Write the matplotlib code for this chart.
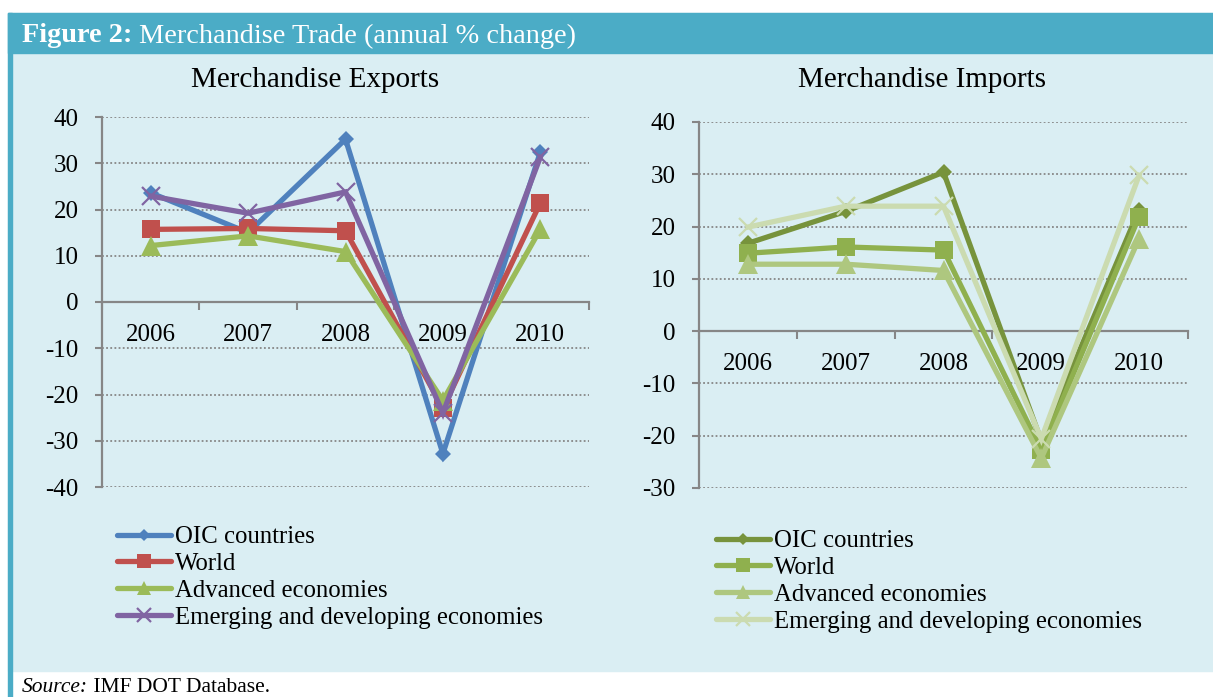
import matplotlib.pyplot as plt
from matplotlib.patches import Rectangle
from matplotlib.lines import Line2D

W, H = 1213, 697

years = ["2006", "2007", "2008", "2009", "2010"]
series_names = ["OIC countries", "World", "Advanced economies",
                "Emerging and developing economies"]

# annual % change
exp_oic = [23.6, 15.0, 35.2, -32.8, 32.4]
exp_world = [15.7, 15.9, 15.4, -23.0, 21.4]
exp_adv = [12.2, 14.3, 10.9, -21.3, 15.7]
exp_emg = [22.9, 19.2, 23.8, -24.0, 31.3]

imp_oic = [16.8, 22.9, 30.4, -21.0, 23.2]
imp_world = [14.9, 16.1, 15.5, -22.8, 21.9]
imp_adv = [12.8, 12.8, 11.6, -24.3, 17.7]
imp_emg = [19.9, 23.9, 23.9, -20.6, 29.8]

exp_colors = ["#4F81BD", "#C0504D", "#9BBB59", "#8064A2"]
imp_colors = ["#77933C", "#8FB04E", "#AEC77F", "#CBDBB0"]
markers = [("D", 8.5), ("s", 13.5), ("^", 14), ("x", 13)]

FONT = "Liberation Serif"
plt.rcParams["font.family"] = FONT
AXIS_GREY = "#868686"
TICK_FS = 18
LEG_FS = 17.8


def fx(x):
    return x / W


def fy(y):
    return 1 - y / H


def make_chart(fig, box, values, colors, ymin, ymax, title, title_xy, legend_xy):
    x0, y0, x1, y1 = box
    ax = fig.add_axes([fx(x0), fy(y1), fx(x1 - x0), (y1 - y0) / H])
    ax.set_facecolor("none")
    xs = range(len(years))
    handles = []
    for vals, color, (m, ms), name in zip(values, colors, markers, series_names):
        mew = 1.6 if m == "x" else 0
        ax.plot(xs, vals, color=color, lw=3.8, marker=m, markersize=ms,
                markeredgewidth=mew, markeredgecolor=color,
                solid_joinstyle="miter", label=name, clip_on=False, zorder=3)
        handles.append(Line2D([], [], color=color, lw=3.8, marker=m,
                              markersize=ms * 0.75, markeredgewidth=mew,
                              markeredgecolor=color, solid_capstyle="round"))

    for s in ["top", "right"]:
        ax.spines[s].set_visible(False)
    ax.spines["bottom"].set_position(("data", 0))
    for s in ["left", "bottom"]:
        ax.spines[s].set_color(AXIS_GREY)
        ax.spines[s].set_linewidth(1.6)

    ax.set_xlim(-0.5, len(years) - 0.5)
    ax.set_ylim(ymin, ymax)
    ticks = list(range(ymin, ymax + 1, 10))
    ax.set_yticks(ticks)
    ax.set_yticklabels([str(t) for t in ticks])
    for t in ticks:
        if t != 0:
            ax.axhline(t, color=AXIS_GREY, lw=1.3, ls=(0, (1, 1.3)), zorder=1)

    ax.set_xticks(list(xs))
    ax.set_xticklabels(years)
    ax.set_xticks([i - 0.5 for i in range(len(years) + 1)], minor=True)
    ax.tick_params(axis="x", which="major", length=0, pad=16, labelsize=TICK_FS)
    ax.tick_params(axis="x", which="minor", length=6, width=1.5, color=AXIS_GREY,
                   direction="out")
    ax.tick_params(axis="y", length=5, width=1.5, color=AXIS_GREY, pad=12,
                   labelsize=TICK_FS)

    fig.text(fx(title_xy[0]), fy(title_xy[1]), title, fontsize=21,
             ha="center", va="center")

    fig.legend(handles=handles, labels=series_names, loc="upper left",
               bbox_to_anchor=(fx(legend_xy[0]), fy(legend_xy[1])),
               frameon=False, fontsize=LEG_FS, handlelength=2.2,
               handletextpad=0.15, labelspacing=0.18, borderpad=0,
               borderaxespad=0)
    return ax


fig = plt.figure(figsize=(W / 100, H / 100), dpi=100)

# frame: header band, light panel, left border strip
fig.patches.append(Rectangle((fx(8), fy(671)), fx(W - 8), (671 - 13) / H,
                             transform=fig.transFigure, color="#DAEEF3", zorder=-3))
fig.patches.append(Rectangle((fx(8), fy(53)), fx(W - 8), 40 / H,
                             transform=fig.transFigure, color="#4BACC6", zorder=-2))
fig.patches.append(Rectangle((fx(8), 0), fx(3.5), fy(13),
                             transform=fig.transFigure, color="#4BACC6", zorder=-2))

make_chart(fig, (102, 117, 589, 487),
           [exp_oic, exp_world, exp_adv, exp_emg], exp_colors, -40, 40,
           "Merchandise Exports", (315, 80), (117, 526))
make_chart(fig, (699, 122, 1188, 488),
           [imp_oic, imp_world, imp_adv, imp_emg], imp_colors, -30, 40,
           "Merchandise Imports", (922, 80), (716, 530))

# header and source lines, each with a styled first part
fig.canvas.draw()
r = fig.canvas.get_renderer()
t1 = fig.text(fx(22), fy(36), "Figure 2:", color="white", fontsize=20.3,
              fontweight="bold", va="center")
ext = t1.get_window_extent(r)
fig.text(ext.x1 / W, fy(36), " Merchandise Trade (annual % change)",
         color="white", fontsize=20.3, va="center")

s1 = fig.text(fx(22), fy(687), "Source:", fontsize=15.5, style="italic", va="center")
ext = s1.get_window_extent(r)
fig.text(ext.x1 / W, fy(687), " IMF DOT Database.", fontsize=15.5, va="center")

fig.savefig("out.png", dpi=100)
